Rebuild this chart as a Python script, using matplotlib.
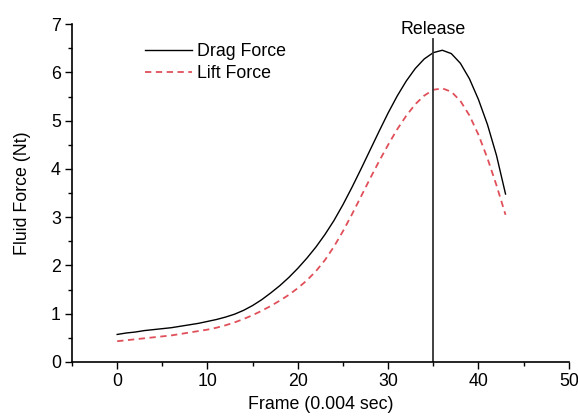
import numpy as np
import matplotlib.pyplot as plt
from matplotlib.ticker import MultipleLocator

plt.rcParams['font.family'] = ['Liberation Sans', 'DejaVu Sans']

# dados
frames = np.arange(0, 44)
drag = [0.57, 0.60, 0.62, 0.65, 0.67, 0.69, 0.71, 0.74, 0.77, 0.80,
        0.84, 0.88, 0.93, 0.99, 1.07, 1.17, 1.29, 1.43, 1.58, 1.75,
        1.94, 2.15, 2.38, 2.64, 2.93, 3.26, 3.62, 4.00, 4.39, 4.78,
        5.16, 5.51, 5.82, 6.08, 6.28, 6.41, 6.46, 6.39, 6.19, 5.87,
        5.44, 4.92, 4.28, 3.48]
lift = [0.43, 0.45, 0.47, 0.49, 0.51, 0.53, 0.55, 0.58, 0.61, 0.64,
        0.67, 0.71, 0.76, 0.82, 0.89, 0.97, 1.06, 1.16, 1.27, 1.39,
        1.53, 1.69, 1.88, 2.11, 2.39, 2.71, 3.06, 3.43, 3.80, 4.16,
        4.50, 4.82, 5.10, 5.34, 5.52, 5.64, 5.67, 5.60, 5.41, 5.11,
        4.71, 4.22, 3.66, 3.05]
release_frame = 35
release_top = 6.7

fs = 12.8

fig = plt.figure(figsize=(5.78, 4.17), dpi=100)
ax = fig.add_axes([0.1246, 0.132, 0.8594, 0.81])

ax.plot(frames, drag, color='black', lw=1.0, label='Drag Force')
ax.plot(frames, lift, color='#e0505a', lw=1.3, ls=(0, (3.5, 2.5)), label='Lift Force')
ax.plot([release_frame, release_frame], [0, release_top], color='#333333', lw=1.3)
ax.text(release_frame, 6.9, 'Release', ha='center', va='center', fontsize=fs)

ax.set_xlim(-5, 50)
ax.set_ylim(0, 7)
ax.xaxis.set_major_locator(MultipleLocator(10))
ax.xaxis.set_minor_locator(MultipleLocator(5))
ax.yaxis.set_major_locator(MultipleLocator(1))
ax.yaxis.set_minor_locator(MultipleLocator(0.5))
ax.tick_params(which='major', direction='out', length=5, width=1, labelsize=fs, pad=3)
ax.tick_params(which='minor', direction='out', length=3, width=1)
ax.spines['top'].set_visible(False)
ax.spines['right'].set_visible(False)
ax.spines['left'].set_linewidth(1.2)
ax.spines['bottom'].set_linewidth(1.2)

ax.set_xlabel('Frame (0.004 sec)', fontsize=fs, labelpad=4)
ax.set_ylabel('Fluid Force (Nt)', fontsize=fs, labelpad=14.5)

ax.legend(loc='upper left', bbox_to_anchor=(0.147, 0.943), frameon=False,
          borderaxespad=0, borderpad=0, fontsize=fs, handlelength=2.65,
          handletextpad=0.3, labelspacing=0.25)

fig.savefig('out.png', dpi=100)
